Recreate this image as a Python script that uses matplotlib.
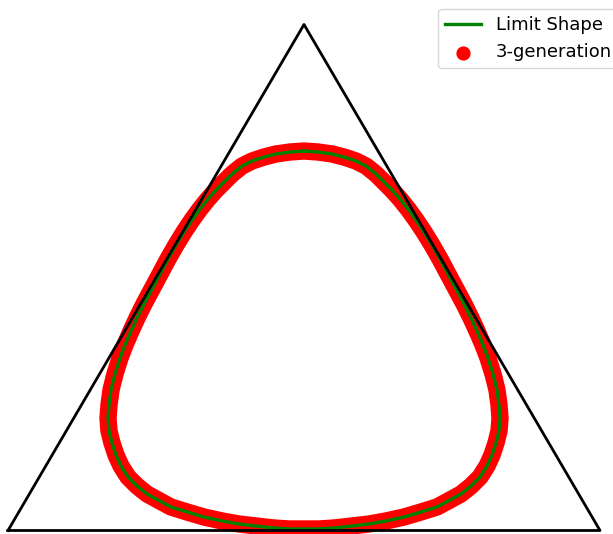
import numpy as np
import matplotlib
matplotlib.use("Agg")
import matplotlib.pyplot as plt

# Triangle vertices (unit side, equilateral)
tri_x = [0.0, 1.0, 0.5, 0.0]
tri_y = [0.0, 0.0, np.sqrt(3) / 2, 0.0]

# Limit shape, left half from the top down to the bottom
left_x = [0.5000, 0.4764, 0.4527, 0.4324, 0.4122, 0.3953, 0.3784,
          0.3649, 0.3514, 0.3378, 0.3243, 0.3108, 0.2973, 0.2838, 0.2703, 0.2568, 0.2432,
          0.2297, 0.2179, 0.2078, 0.1976, 0.1892, 0.1807, 0.1740, 0.1706, 0.1689,
          0.1706, 0.1757, 0.1824, 0.1909, 0.2027, 0.2179, 0.2348, 0.2534, 0.2753, 0.3024,
          0.3311, 0.3615, 0.3902, 0.4189, 0.4493, 0.4747, 0.5000]
left_y = [0.6495, 0.6478, 0.6444, 0.6392, 0.6324, 0.6238, 0.6101,
          0.5965, 0.5828, 0.5674, 0.5503, 0.5314, 0.5109, 0.4886, 0.4647, 0.4390, 0.4133,
          0.3877, 0.3637, 0.3414, 0.3175, 0.2952, 0.2678, 0.2405, 0.2148, 0.1925,
          0.1703, 0.1498, 0.1292, 0.1104, 0.0916, 0.0762, 0.0625, 0.0522, 0.0402, 0.0317,
          0.0231, 0.0163, 0.0111, 0.0077, 0.0043, 0.0026, 0.0026]

# right half, from the bottom back up to the top
right_x = [0.5253, 0.5507, 0.5811, 0.6098, 0.6385, 0.6689, 0.6976, 0.7247, 0.7466, 0.7652,
           0.7821, 0.7973, 0.8091, 0.8176, 0.8243, 0.8294,
           0.8311, 0.8294, 0.8260, 0.8193, 0.8108, 0.8024, 0.7922, 0.7821, 0.7703, 0.7568,
           0.7432, 0.7297, 0.7162, 0.7027, 0.6892, 0.6757, 0.6622, 0.6486, 0.6351,
           0.6216, 0.6047, 0.5878, 0.5676, 0.5473, 0.5236, 0.5000]
right_y = [0.0026, 0.0043, 0.0077, 0.0111, 0.0163, 0.0231, 0.0317, 0.0402, 0.0522, 0.0625,
           0.0762, 0.0916, 0.1104, 0.1292, 0.1498, 0.1703,
           0.1925, 0.2148, 0.2405, 0.2678, 0.2952, 0.3175, 0.3414, 0.3637, 0.3877, 0.4133,
           0.4390, 0.4647, 0.4886, 0.5109, 0.5314, 0.5503, 0.5674, 0.5828, 0.5965,
           0.6101, 0.6238, 0.6324, 0.6392, 0.6444, 0.6478, 0.6495]

shape_x = left_x + right_x
shape_y = left_y + right_y

# 3-generation sample points (they sit on the limit shape)
gen_x = shape_x
gen_y = shape_y

fig = plt.figure(figsize=(6.13, 5.34), dpi=100)
ax = fig.add_axes([0, 0, 1, 1])

# red band of 3-generation samples
ax.fill(gen_x, gen_y, facecolor="none", edgecolor="red", lw=12.5,
        joinstyle="round", zorder=1)
pts = ax.scatter(gen_x, gen_y, color="red", s=85, zorder=1, label="3-generation")

line, = ax.plot(shape_x, shape_y, color="green", lw=2.4, zorder=2,
                label="Limit Shape")
ax.plot(tri_x, tri_y, color="black", lw=2, zorder=3)

# map triangle so it fills the picture
px_per_x = 592.0
px_per_y = 506.0 / (np.sqrt(3) / 2)
ax.set_xlim(-8 / px_per_x, (613 - 8) / px_per_x)
ax.set_ylim(-3.5 / px_per_y, 530.5 / px_per_y)
ax.axis("off")

fig.legend(handles=[line, pts], loc="upper left", fontsize=13,
           bbox_to_anchor=(438 / 613, 1 - 9 / 534), borderaxespad=0)

fig.savefig("out.png", dpi=100)
